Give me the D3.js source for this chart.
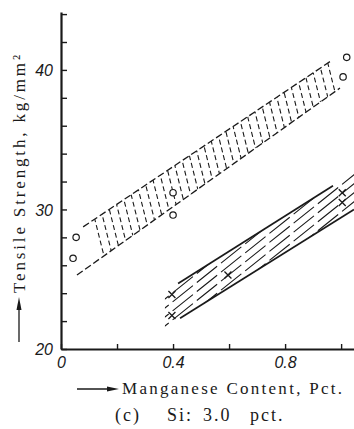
<!DOCTYPE html>
<html>
<head>
<meta charset="utf-8">
<script src="https://cdn.jsdelivr.net/npm/d3@7"></script>
<style>
body { margin: 0; background: #fff; }
</style>
</head>
<body>
<script>
// tensile strength vs manganese content, Si 3.0 pct
var circleMn = [0.043, 0.054, 0.40, 0.40, 1.007, 1.02];
var circleTS = [26.5, 28.0, 29.6, 31.2, 39.5, 40.9];
var crossMn = [0.396, 0.396, 0.596, 1.004, 1.004];
var crossTS = [23.9, 22.4, 25.3, 31.2, 30.5];

// upper band (circles): corners of the dotted zone
var oBandMn = [0.079, 0.968, 0.996, 0.057];
var oBandTS = [28.75, 40.7, 38.7, 25.3];

// lower band (crosses): hatched zone and its two solid edges
var xHatchMn = [0.371, 1.046, 1.046, 0.371];
var xHatchTS = [24.1, 32.65, 30.0, 21.5];
var xTopMn = [0.418, 0.971], xTopTS = [24.7, 31.7];
var xLowMn = [0.425, 1.046], xLowTS = [22.2, 30.0];

var yTicks = [20, 22, 24, 26, 28, 30, 32, 34, 36, 38, 40, 42, 44];
var yLabels = [20, 30, 40];
var xTicks = [0, 0.2, 0.4, 0.6, 0.8, 1.0];
var xLabels = [0, 0.4, 0.8];

var svg = d3.select("body").append("svg")
    .attr("width", 354)
    .attr("height", 429);

var x = d3.scaleLinear().domain([0, 1.046]).range([61, 354]);
var y = d3.scaleLinear().domain([20, 44.15]).range([349, 12]);

var ink = "#1a1a1a";

// ---- upper band, dotted "T" pattern
var oPts = oBandMn.map(function(m, i) { return [x(m), y(oBandTS[i])]; });
var defs = svg.append("defs");
defs.append("clipPath").attr("id", "oclip")
    .append("polygon").attr("points", oPts.map(function(p) { return p.join(","); }).join(" "));

var og = svg.append("g").attr("clip-path", "url(#oclip)");
for (var px = 40; px < 360; px += 8.5) {
    og.append("line")
        .attr("x1", px).attr("y1", 0)
        .attr("x2", px + 0.25 * 420).attr("y2", 420)
        .attr("stroke", ink)
        .attr("stroke-width", 1.1)
        .attr("stroke-dasharray", "5,3");
}
svg.append("line")
    .attr("x1", oPts[0][0]).attr("y1", oPts[0][1])
    .attr("x2", oPts[1][0]).attr("y2", oPts[1][1])
    .attr("stroke", ink).attr("stroke-width", 1.3)
    .attr("stroke-dasharray", "7,3");
svg.append("line")
    .attr("x1", oPts[3][0]).attr("y1", oPts[3][1])
    .attr("x2", oPts[2][0]).attr("y2", oPts[2][1])
    .attr("stroke", ink).attr("stroke-width", 1.3)
    .attr("stroke-dasharray", "7,3");

// ---- lower band, long diagonal hatching
var xPts = xHatchMn.map(function(m, i) { return [x(m), y(xHatchTS[i])]; });
defs.append("clipPath").attr("id", "xclip")
    .append("polygon").attr("points", xPts.map(function(p) { return p.join(","); }).join(" "));

var xg = svg.append("g").attr("clip-path", "url(#xclip)");
for (var c = 150; c < 420; c += 9) {
    xg.append("line")
        .attr("x1", 100).attr("y1", c + 0.8 * 150)
        .attr("x2", 360).attr("y2", c - 0.8 * 110)
        .attr("stroke", ink)
        .attr("stroke-width", 1.1)
        .attr("stroke-dasharray", "26,5");
}
svg.append("line")
    .attr("x1", x(xTopMn[0])).attr("y1", y(xTopTS[0]))
    .attr("x2", x(xTopMn[1])).attr("y2", y(xTopTS[1]))
    .attr("stroke", ink).attr("stroke-width", 1.7);
svg.append("line")
    .attr("x1", x(xLowMn[0])).attr("y1", y(xLowTS[0]))
    .attr("x2", x(xLowMn[1])).attr("y2", y(xLowTS[1]))
    .attr("stroke", ink).attr("stroke-width", 1.7);

// ---- markers
svg.selectAll("circle.pt")
    .data(circleMn)
    .enter().append("circle")
    .attr("class", "pt")
    .attr("cx", function(d) { return x(d); })
    .attr("cy", function(d, i) { return y(circleTS[i]); })
    .attr("r", 3.2)
    .attr("fill", "#fff")
    .attr("stroke", ink)
    .attr("stroke-width", 1.2);

svg.selectAll("path.cross")
    .data(crossMn)
    .enter().append("path")
    .attr("class", "cross")
    .attr("d", function(d, i) {
        var cx = x(d), cy = y(crossTS[i]), s = 3.5;
        return "M" + (cx - s) + "," + (cy - s) + "L" + (cx + s) + "," + (cy + s) +
               "M" + (cx - s) + "," + (cy + s) + "L" + (cx + s) + "," + (cy - s);
    })
    .attr("stroke", ink)
    .attr("stroke-width", 1.3);

// ---- axes
var yAxis = svg.append("g")
    .attr("transform", "translate(61,0)")
    .call(d3.axisLeft(y)
        .tickValues(yTicks)
        .tickSizeInner(-6)
        .tickSizeOuter(0)
        .tickPadding(8)
        .tickFormat(function(d) { return yLabels.indexOf(d) >= 0 ? d : ""; }));

var xAxis = svg.append("g")
    .attr("transform", "translate(0,349)")
    .call(d3.axisBottom(x)
        .tickValues(xTicks)
        .tickSizeInner(-5)
        .tickSizeOuter(0)
        .tickPadding(8)
        .tickFormat(function(d) { return xLabels.indexOf(d) >= 0 ? d : ""; }));

[yAxis, xAxis].forEach(function(ax) {
    ax.select(".domain").attr("stroke", ink).attr("stroke-width", 2.2);
    ax.selectAll(".tick line").attr("stroke", ink).attr("stroke-width", 1.4);
    ax.selectAll(".tick text")
        .attr("fill", ink)
        .style("font-family", "'Liberation Sans', sans-serif")
        .style("font-style", "italic")
        .style("font-size", "16px");
});
yAxis.selectAll(".tick text").attr("dy", "0.36em");

// ---- titles
var serif = "'Liberation Serif', 'DejaVu Serif', serif";

svg.append("line")
    .attr("x1", 19).attr("y1", 342).attr("x2", 19).attr("y2", 306)
    .attr("stroke", ink).attr("stroke-width", 1.3);
svg.append("path")
    .attr("d", "M19,297 L16.5,310 L21.5,310 Z")
    .attr("fill", ink);
svg.append("text")
    .attr("transform", "translate(25,293) rotate(-90)")
    .attr("textLength", 238)
    .attr("lengthAdjust", "spacing")
    .attr("fill", ink)
    .style("font-family", serif)
    .style("font-size", "17px")
    .text("Tensile Strength, kg/mm²");

svg.append("line")
    .attr("x1", 77).attr("y1", 389).attr("x2", 110).attr("y2", 389)
    .attr("stroke", ink).attr("stroke-width", 1.3);
svg.append("path")
    .attr("d", "M119,389 L107,386.5 L107,391.5 Z")
    .attr("fill", ink);
svg.append("text")
    .attr("x", 122).attr("y", 394)
    .attr("textLength", 220)
    .attr("lengthAdjust", "spacing")
    .attr("fill", ink)
    .style("font-family", serif)
    .style("font-size", "17px")
    .text("Manganese Content, Pct.");

// caption, spread out like the typeset original
var capParts = ["(c)", "Si:", "3.0", "pct."];
var capX = [115, 167, 203, 250];
svg.selectAll("text.cap")
    .data(capParts)
    .enter().append("text")
    .attr("class", "cap")
    .attr("x", function(d, i) { return capX[i]; })
    .attr("y", 421)
    .attr("fill", ink)
    .style("font-family", serif)
    .style("font-size", "18px")
    .style("letter-spacing", "2px")
    .text(function(d) { return d; });
</script>
</body>
</html>
